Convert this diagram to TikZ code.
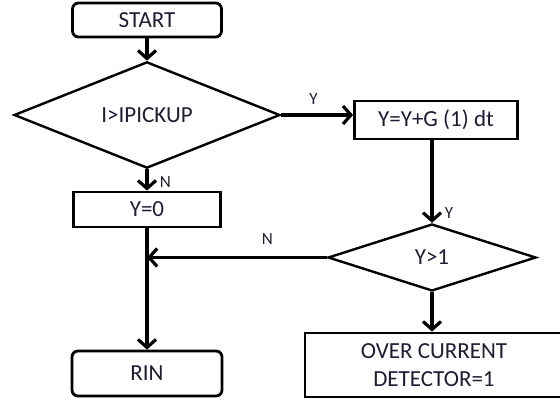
\documentclass[tikz,border=0pt]{standalone}
\usepackage{fontspec}
\setmainfont{Carlito}
\usepackage{tikz}
\usetikzlibrary{shapes.geometric, positioning, arrows.meta}
\definecolor{txtblue}{RGB}{28,28,52}

\tikzset{
  flow/.style={line width=3.5pt, -{Straight Barb[length=8pt, width=18pt, line width=3.2pt]}},
  terminal/.style={draw, line width=2.8pt, rounded corners=6pt, text=txtblue,
    font=\fontsize{23}{27}\selectfont},
  process/.style={draw, line width=2.8pt, text=txtblue, align=center,
    font=\fontsize{23}{28}\selectfont},
  decision/.style={draw, diamond, line width=2.4pt, inner sep=0pt, text=txtblue,
    font=\fontsize{23}{27}\selectfont},
  branch/.style={text=txtblue, font=\fontsize{17}{20}\selectfont, inner sep=1pt}
}

\begin{document}
\begin{tikzpicture}[x=1pt, y=1pt, node distance=95pt, on grid]
      \useasboundingbox (0,0) rectangle (560,-402);
      \node[terminal, minimum width=149pt, minimum height=34pt] (start) at (147,-20) {START};
      \node[decision, minimum width=266pt, minimum height=72pt, below=95pt of start] (pickup) {I>IPICKUP};
      \node[process, minimum width=147pt, minimum height=35pt, below=94.5pt of pickup] (yzero) {Y=0};
      \node[terminal, minimum width=150pt, minimum height=45pt, below=164pt of yzero] (rin) {RIN};
      \node[process, minimum width=163pt, minimum height=38pt, below right=5pt and 289pt of pickup] (integ) {Y=Y+G (1) dt};
      \node[decision, minimum width=208pt, minimum height=67pt, below left=137.5pt and 4pt of integ] (ygt) {Y>1};
      \node[process, minimum width=258pt, minimum height=64pt, below=107.5pt of ygt, xshift=2pt] (ocd) {OVER CURRENT\\DETECTOR=1};
      \draw[flow] (start) -- (pickup);
      \draw[flow] (pickup) -- node[branch, right=10pt, pos=0.62] {N} (yzero);
      \draw[flow] (pickup.east) -- node[branch, above=8pt, pos=0.45] {Y} (pickup.east -| integ.west);
      \draw[flow] (integ.south -| ygt.north) -- node[branch, right=10pt, pos=0.88] {Y} (ygt.north);
      \draw[flow] (ygt.west) -- node[branch, above=10pt, pos=0.33] {N} (ygt.west -| yzero.south);
      \draw[flow] (yzero) -- (rin);
      \draw[flow] (ygt.south) -- (ygt.south |- ocd.north);
    \end{tikzpicture}
\end{document}
